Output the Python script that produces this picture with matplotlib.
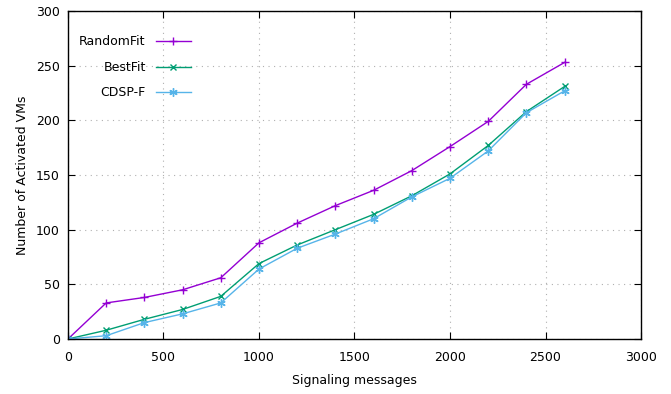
import matplotlib.pyplot as plt

signaling = [0, 200, 400, 600, 800, 1000, 1200, 1400, 1600, 1800, 2000, 2200, 2400, 2600]
random_fit = [0, 33, 38, 45, 56, 88, 106, 122, 136, 154, 176, 199, 233, 253]
best_fit = [0, 8, 18, 27, 39, 69, 86, 100, 114, 131, 151, 177, 208, 231]
cdsp_f = [0, 3, 15, 23, 33, 64, 83, 96, 110, 130, 147, 172, 207, 227]

plt.rcParams['font.family'] = ['DejaVu Sans']

fig = plt.figure(figsize=(6.71, 3.94), dpi=100)
ax = fig.add_axes([0.1013, 0.1396, 0.854, 0.8324])

ax.plot(signaling, random_fit, color="#9400d3", marker="+", markersize=6, lw=1, label="RandomFit")
ax.plot(signaling, best_fit, color="#009e73", marker="x", markersize=5, lw=1, label="BestFit")
ax.plot(signaling, cdsp_f, color="#56b4e9", marker=(6, 2, 0), markersize=6, lw=1, label="CDSP-F")

ax.set_xlim(0, 3000)
ax.set_ylim(0, 300)
ax.set_xticks(range(0, 3001, 500))
ax.set_yticks(range(0, 301, 50))
ax.grid(True, linestyle=(0, (1, 4)), color="#b0b0b0", lw=0.8)
ax.tick_params(direction="in", top=True, right=True, labelsize=9, length=5)
ax.tick_params(axis="x", pad=9)
ax.tick_params(axis="y", pad=6)
for s in ax.spines.values():
    s.set_linewidth(1)

ax.set_xlabel("Signaling messages", fontsize=9, labelpad=7)
ax.set_ylabel("Number of Activated VMs", fontsize=9, labelpad=5)

leg = ax.legend(loc="upper left", bbox_to_anchor=(0.0, 0.96), frameon=False, markerfirst=False,
                fontsize=9, handlelength=2.8, labelspacing=1.0, alignment="right")
for t in leg.get_texts():
    t.set_ha("right")

fig.savefig("out.png", dpi=100)
